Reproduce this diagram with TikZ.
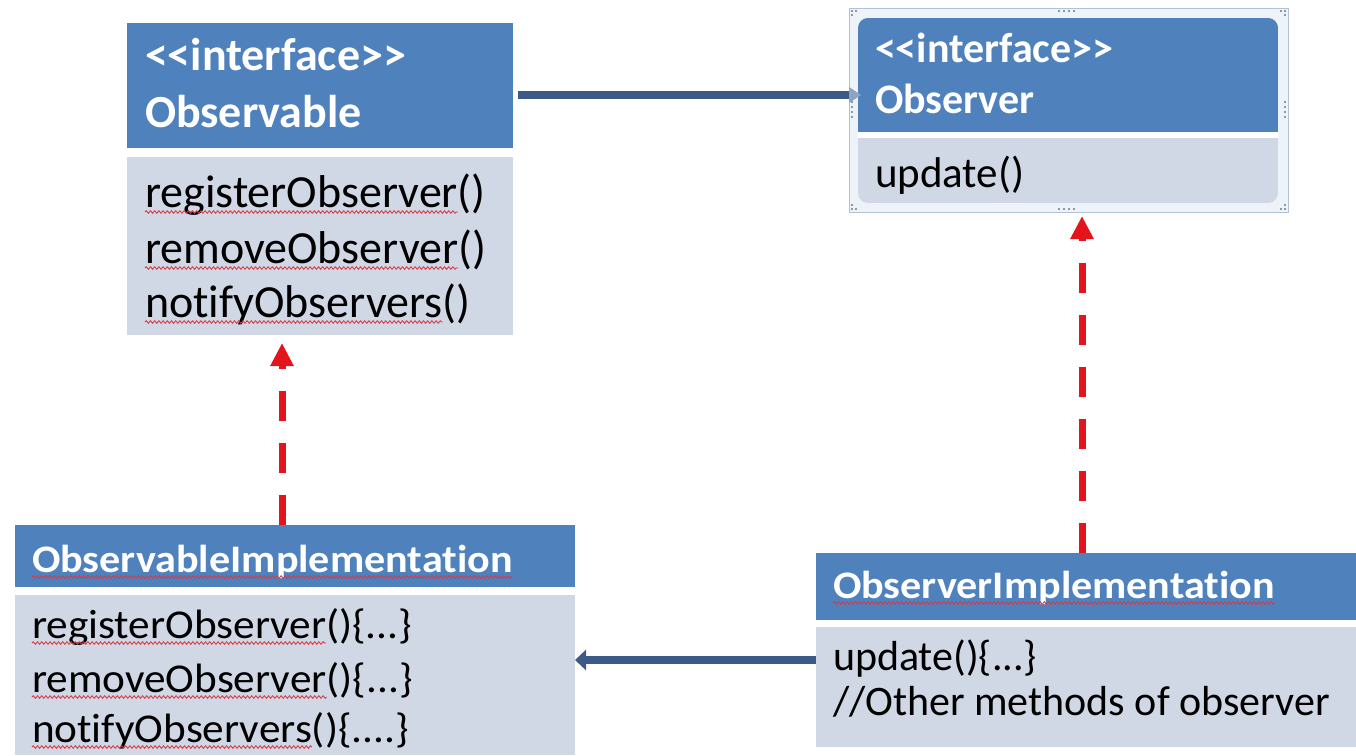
\documentclass[tikz,border=0pt]{standalone}
\usepackage{graphicx}
\usepackage{fontspec}
\setmainfont{Carlito}[Ligatures=NoCommon]
\usetikzlibrary{arrows.meta,decorations.pathmorphing,calc}

\definecolor{hdrblue}{HTML}{4F81BD}
\definecolor{bodygray}{HTML}{D0D7E5}
\definecolor{linkblue}{HTML}{3B5A88}
\definecolor{tipgray}{HTML}{8EA3BD}
\definecolor{dashred}{HTML}{E3141C}
\definecolor{framecol}{HTML}{AFC2D6}
\definecolor{framefill}{HTML}{EEF3F9}
\definecolor{handlecol}{HTML}{6B7B8C}
\definecolor{spellred}{HTML}{D83A44}

\tikzset{
  hdr/.style={fill=hdrblue, inner sep=0pt, outer sep=0pt, anchor=north west},
  bodybox/.style={fill=bodygray, inner sep=0pt, outer sep=0pt, anchor=north west},
  txt/.style={anchor=base west, inner sep=0pt, outer sep=0pt, text=black},
  htxt/.style={txt, text=white},
  squig/.style={draw=spellred, line width=0.85pt, decorate,
    decoration={snake, amplitude=1.3pt, segment length=4.2pt}},
  realize/.style={draw=dashred, line width=7pt, dash pattern=on 30pt off 22pt,
    -{Triangle[length=23pt,width=22pt]}},
  assoc/.style={draw=linkblue, line width=8pt},
  handle/.style={fill=handlecol},
}
% horizontally stretched text
\newcommand{\xs}[2]{\scalebox{#1}[1]{#2}}
\newcommand{\hbig}{\fontsize{46pt}{56pt}\selectfont\bfseries}
\newcommand{\bbig}{\fontsize{46pt}{55pt}\selectfont}
\newcommand{\hmid}{\fontsize{42pt}{51pt}\selectfont\bfseries}
\newcommand{\bmid}{\fontsize{43pt}{50pt}\selectfont}
\newcommand{\hsmall}{\fontsize{39pt}{48pt}\selectfont\bfseries}
\newcommand{\bsmall}{\fontsize{41pt}{50pt}\selectfont}
\newcommand{\brsmall}{\fontsize{42pt}{50pt}\selectfont}

\begin{document}
\begin{tikzpicture}[x=1pt, y=-1pt]
\useasboundingbox (0,0) rectangle (1356,755);
\fill[white] (0,0) rectangle (1356,755);

% ---------- Observable interface ----------
\node[hdr, minimum width=386pt, minimum height=125pt] (tlh) at (127,23) {};
\node[bodybox, minimum width=386pt, minimum height=178pt] (tlb) at (127,157) {};
\node[htxt, font=\hbig] (tlh1) at (145,70) {<{}<interface>{}>};
\node[htxt, font=\hbig] (tlh2) at (145,127) {Observable};
\node[txt, font=\bbig] (tlb1) at (145,207) {registerObserver};
\node[txt, font=\bbig] at (tlb1.base east) {()};
\node[txt, font=\bbig] (tlb2) at (145,263) {removeObserver};
\node[txt, font=\bbig] at (tlb2.base east) {()};
\node[txt, font=\bbig] (tlb3) at (145,317) {notifyObservers};
\node[txt, font=\bbig] at (tlb3.base east) {()};
\foreach \w in {tlb1,tlb2,tlb3}
  \draw[squig] ([yshift=-5pt]\w.base west) -- ([yshift=-5pt]\w.base east);

% ---------- Observer interface (selected shape) ----------
\node[fill=framefill, draw=framecol, line width=1pt, inner sep=0pt, anchor=north west,
      minimum width=439pt, minimum height=204pt] (obsframe) at (849,8) {};
\node[inner sep=0pt, outer sep=0pt, anchor=north west,
      minimum width=420pt, minimum height=185pt] (obs) at (858,18) {};
\begin{scope}
  \clip[rounded corners=10pt] (obs.north west) rectangle (obs.south east);
  \fill[bodygray] (obs.north west) rectangle (obs.south east);
  \fill[hdrblue] (858,18) rectangle (1278,132);
  \fill[white] (858,132) rectangle (1278,138);
\end{scope}
\node[htxt, font=\hmid] (obh1) at (875,62) {<{}<interface>{}>};
\node[htxt, font=\hmid] (obh2) at (875,113) {Observer};
\node[txt, font=\bmid] (obb1) at (875,187) {update()};
% sizing handles of the selection frame
\foreach \hx in {1059,1064,1069,1074} {
  \fill[handle] (\hx,11) circle (1.1pt);
  \fill[handle] (\hx,209) circle (1.1pt);
}
\foreach \hy in {102,107,112,117} {
  \fill[handle] (852,\hy) circle (1.1pt);
  \fill[handle] (1285,\hy) circle (1.1pt);
}
\foreach \cx/\cy/\dx/\dy in {852/11/4/4, 1285/11/-4/4, 852/209/4/-4, 1285/209/-4/-4} {
  \fill[handle] (\cx,\cy) circle (1.1pt);
  \fill[handle] (\cx+\dx,\cy) circle (1.1pt);
  \fill[handle] (\cx,\cy+\dy) circle (1.1pt);
}

% ---------- ObservableImplementation ----------
\node[hdr, minimum width=560pt, minimum height=62pt] (blh) at (15,525) {};
\node[bodybox, minimum width=560pt, minimum height=160pt] (blb) at (15,595) {};
\node[htxt, font=\hsmall] (blh1) at (32,572) {\xs{1.08}{ObservableImplementation}};
\node[txt, font=\bsmall] (blb1) at (32,638) {\xs{1.055}{registerObserver}};
\node[txt, font=\bsmall] at (blb1.base east) {\xs{1.055}{()\{...\}}};
\node[txt, font=\bsmall] (blb2) at (32,692) {\xs{1.055}{removeObserver}};
\node[txt, font=\bsmall] at (blb2.base east) {\xs{1.055}{()\{...\}}};
\node[txt, font=\bsmall] (blb3) at (32,742) {\xs{1.055}{notifyObservers}};
\node[txt, font=\bsmall] at (blb3.base east) {\xs{1.055}{()\{....\}}};
\foreach \w in {blh1,blb1,blb2,blb3}
  \draw[squig] ([yshift=-5pt]\w.base west) -- ([yshift=-5pt]\w.base east);

% ---------- ObserverImplementation ----------
\node[hdr, minimum width=540pt, minimum height=67pt] (brh) at (816,553) {};
\node[bodybox, minimum width=540pt, minimum height=120pt] (brb) at (816,627) {};
\node[htxt, font=\hsmall] (brh1) at (833,598) {\xs{1.08}{ObserverImplementation}};
\node[txt, font=\brsmall] (brb1) at (833,670) {update()\{...\}};
\node[txt, font=\brsmall] (brb2) at (833,715) {//Other methods of observer};
\draw[squig] ([yshift=-5pt]brh1.base west) -- ([yshift=-5pt]brh1.base east);

% ---------- connectors ----------
% association Observable -> Observer
\coordinate (a1) at ([xshift=5pt,yshift=-9.5pt]tlh.east);
\draw[assoc] (a1) -- (a1 -| obsframe.west);
\fill[tipgray] ([yshift=8pt]a1 -| obsframe.west) -- ([xshift=12pt]a1 -| obsframe.west)
  -- ([yshift=-8pt]a1 -| obsframe.west) -- cycle;

% association ObserverImplementation -> ObservableImplementation
\coordinate (a2) at ([yshift=27pt]brb.west);
\draw[assoc, -{Triangle[length=11pt,width=20pt]}] (a2) -- (a2 -| blb.east);

% realizations
\coordinate (r1) at ([xshift=-13pt]blh.north);
\draw[realize, shorten >=8pt] (r1) -- (r1 |- tlb.south);
\coordinate (r2) at ([xshift=-4pt]brh.north);
\draw[realize, shorten >=3pt] (r2) -- (r2 |- obsframe.south);
\end{tikzpicture}
\end{document}
